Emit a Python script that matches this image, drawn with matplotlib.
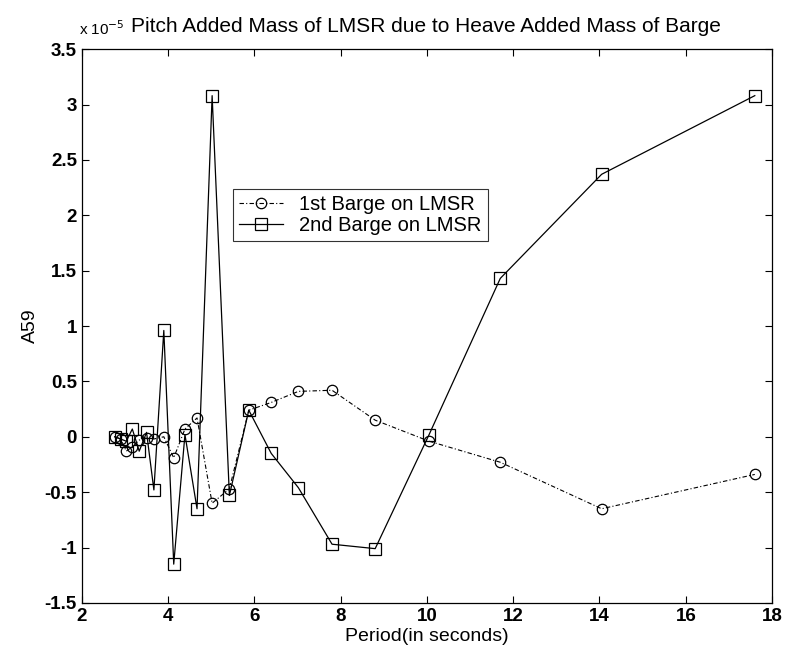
import matplotlib
matplotlib.use("Agg")
import matplotlib.pyplot as plt

plt.rcParams['font.family'] = ['Liberation Sans', 'DejaVu Sans']

# Wave periods (s)
period = [2.76, 2.90, 3.03, 3.17, 3.33, 3.50, 3.67, 3.90, 4.13, 4.39, 4.67,
          5.02, 5.42, 5.87, 6.39, 7.02, 7.80, 8.80, 10.05, 11.70, 14.05, 17.60]

# A59 values, in units of 1e-5
barge1 = [0.00, -0.02, -0.13, -0.09, -0.03, -0.01, -0.02, 0.00, -0.19, 0.07, 0.17,
          -0.60, -0.47, 0.24, 0.31, 0.41, 0.42, 0.15, -0.04, -0.23, -0.65, -0.34]
barge2 = [0.00, -0.02, -0.04, 0.07, -0.13, 0.04, -0.48, 0.96, -1.15, 0.02, -0.65,
          3.08, -0.53, 0.24, -0.15, -0.46, -0.97, -1.01, 0.02, 1.43, 2.37, 3.08]

xticks = [2, 4, 6, 8, 10, 12, 14, 16, 18]
yticks = [-1.5, -1, -0.5, 0, 0.5, 1, 1.5, 2, 2.5, 3, 3.5]

fig = plt.figure(figsize=(7.87, 6.64), dpi=100)
ax = fig.add_axes([0.104, 0.092, 0.877, 0.834])

ax.plot(period, barge1, color='black', linestyle=(0, (4, 2, 1, 2)), linewidth=0.8,
        marker='o', markersize=7.5, markerfacecolor='none', markeredgewidth=0.9,
        label='1st Barge on LMSR')
ax.plot(period, barge2, color='black', linestyle='-', linewidth=0.9,
        marker='s', markersize=8, markerfacecolor='none', markeredgewidth=0.9,
        label='2nd Barge on LMSR')

ax.set_xlim(2, 18)
ax.set_ylim(-1.5, 3.5)
ax.set_xticks(xticks)
ax.set_xticklabels([str(t) for t in xticks])
ax.set_yticks(yticks)
ax.set_yticklabels(['%g' % t for t in yticks])
ax.tick_params(direction='in', top=True, right=True, length=5, width=0.8,
               labelsize=13.5)
for lab in ax.get_xticklabels() + ax.get_yticklabels():
    lab.set_fontweight('bold')
for s in ax.spines.values():
    s.set_linewidth(0.9)

ax.set_xlabel('Period(in seconds)', fontsize=14, labelpad=2)
ax.set_ylabel('A59', fontsize=14, labelpad=4)
ax.set_title('Pitch Added Mass of LMSR due to Heave Added Mass of Barge',
             fontsize=15, pad=12, x=0.499)
ax.text(-0.004, 1.02, r'x 10$^{-5}$', transform=ax.transAxes, fontsize=11,
        ha='left', va='bottom')

leg = ax.legend(loc='upper left', bbox_to_anchor=(0.219, 0.748), fontsize=14.5,
                frameon=True, fancybox=False, edgecolor='black',
                borderpad=0.3, labelspacing=0.1, handlelength=2.2,
                handletextpad=0.8, borderaxespad=0)
leg.get_frame().set_linewidth(0.8)

fig.savefig('out.png', dpi=100)
